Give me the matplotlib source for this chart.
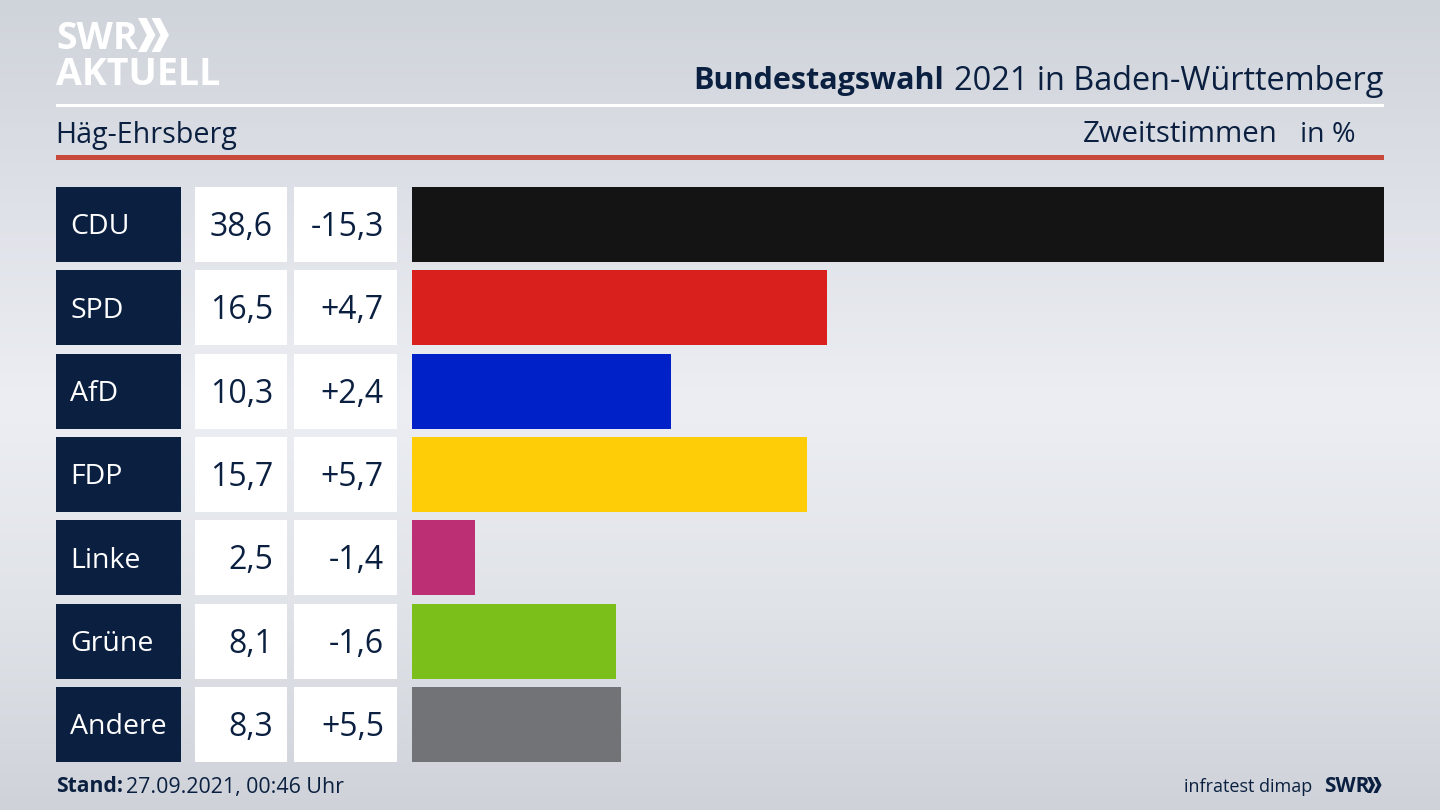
import numpy as np
import matplotlib
matplotlib.use("Agg")
import matplotlib.pyplot as plt
from matplotlib.patches import Rectangle, Polygon

parties = ["CDU", "SPD", "AfD", "FDP", "Linke", "Grüne", "Andere"]
shares = [38.6, 16.5, 10.3, 15.7, 2.5, 8.1, 8.3]
changes = ["-15,3", "+4,7", "+2,4", "+5,7", "-1,4", "-1,6", "+5,5"]
bar_colors = ["#141414", "#d9201c", "#0021c8", "#ffcc08", "#bc2f75", "#7abf1a", "#727376"]

NAVY = "#0b2040"
W, H = 1440, 810
plt.rcParams["font.family"] = ["Open Sans", "DejaVu Sans"]


def chevrons(ax, x, y, h, color):
    """The two arrows of the SWR logo."""
    d = h * 0.26
    t = h * 0.25
    for dx in (0, h * 0.40):
        ax.add_patch(Polygon([(x + dx, y), (x + dx + t, y), (x + dx + t + d, y + h / 2),
                              (x + dx + t, y + h), (x + dx, y + h), (x + dx + d, y + h / 2)],
                             color=color, lw=0))


fig = plt.figure(figsize=(14.4, 8.1), dpi=100)

# background gradient, lighter in the middle
bg = fig.add_axes([0, 0, 1, 1])
grad = np.array([[207, 211, 218], [222, 225, 231], [236, 238, 243], [224, 227, 232], [207, 211, 217]]) / 255
rows = np.linspace(0, 1, H)
img = np.stack([np.interp(rows, np.linspace(0, 1, 5), grad[:, i]) for i in range(3)], axis=1)
bg.imshow(img[:, None, :], aspect="auto", extent=[0, W, H, 0], zorder=0)
bg.set_xlim(0, W)
bg.set_ylim(H, 0)
bg.axis("off")

# header
bg.text(56, 39, "SWR", color="white", fontsize=27, fontweight="bold", va="center", ha="left")
chevrons(bg, 138, 18, 34, "white")
bg.text(56, 75, "AKTUELL", color="white", fontsize=27, fontweight="bold", va="center", ha="left")
bg.text(1383, 81, "2021 in Baden-Württemberg", color=NAVY, fontsize=23.4, va="center", ha="right")
bg.text(944, 81, "Bundestagswahl", color=NAVY, fontsize=22, fontweight="bold", va="center", ha="right")
bg.add_patch(Rectangle((56, 104), 1328, 3, color="white", lw=0))
bg.text(55, 135, "Häg-Ehrsberg", color=NAVY, fontsize=20.6, va="center", ha="left")
bg.text(1278, 135, "Zweitstimmen", color=NAVY, fontsize=21.2, va="center", ha="right")
bg.text(1355, 135, "in %", color=NAVY, fontsize=20.5, va="center", ha="right")
bg.add_patch(Rectangle((56, 155), 1328, 5, color="#c8493a", lw=0))

# table columns next to the bars
for i, party in enumerate(parties):
    top = 187 + i * 83.33
    mid = top + 37.5
    bg.add_patch(Rectangle((56, top), 125, 75, color=NAVY, lw=0))
    bg.add_patch(Rectangle((195, top), 92, 75, color="white", lw=0))
    bg.add_patch(Rectangle((294, top), 103, 75, color="white", lw=0))
    bg.text(70, mid + 3, party, color="white", fontsize=20.5, va="center", ha="left")
    bg.text(273, mid + 3, f"{shares[i]:.1f}".replace(".", ","), color=NAVY, fontsize=23, va="center", ha="right")
    bg.text(384, mid + 3, changes[i], color=NAVY, fontsize=23, va="center", ha="right")

# bars
ax = fig.add_axes([412 / W, 1 - 762 / H, 972 / W, 575 / H])
ax.barh(range(len(parties)), shares, height=0.9, color=bar_colors)
ax.set_xlim(0, max(shares))
ax.set_ylim(6.45, -0.45)
ax.axis("off")

# footer
bg.text(56, 787, "Stand:", color=NAVY, fontsize=15.2, fontweight="bold", va="center", ha="left")
bg.text(126, 787, "27.09.2021, 00:46 Uhr", color=NAVY, fontsize=15.4, va="center", ha="left")
bg.text(1312, 787, "infratest dimap", color=NAVY, fontsize=13, va="center", ha="right")
bg.text(1324, 787, "SWR", color=NAVY, fontsize=15, fontweight="bold", va="center", ha="left")
chevrons(bg, 1367, 777, 16, NAVY)

fig.savefig("out.png", dpi=100)
